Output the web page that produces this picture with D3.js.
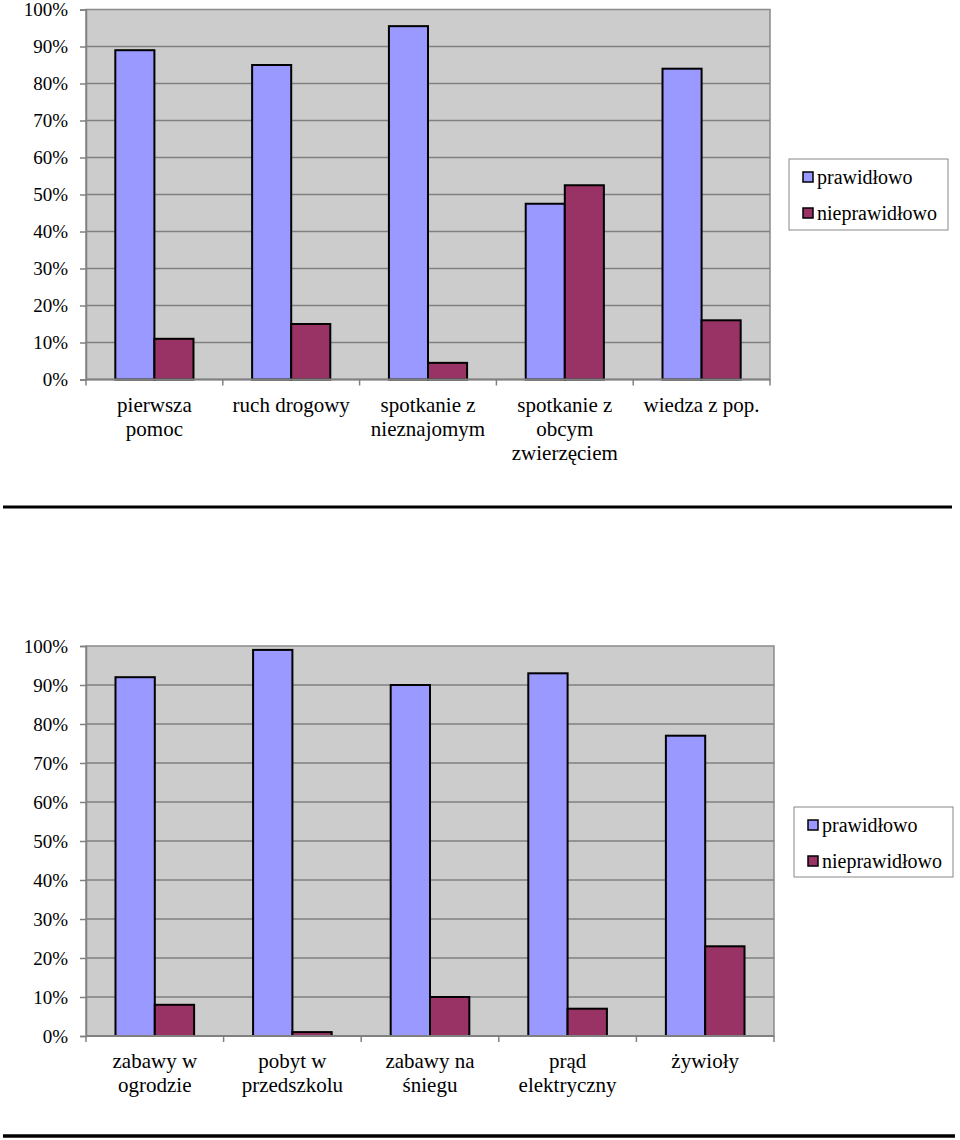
<!DOCTYPE html>
<html><head><meta charset="utf-8">
<script src="https://cdn.jsdelivr.net/npm/d3@7"></script>
<style>body{margin:0;background:#fff}svg{display:block}</style>
</head><body>
<svg id="c" width="960" height="1140"></svg>
<script>
const seriesNames = ["prawidłowo", "nieprawidłowo"];
const colors = ["#9999FF", "#993366"];
const yTicks = [0, 10, 20, 30, 40, 50, 60, 70, 80, 90, 100];

const cats1 = [["pierwsza","pomoc"],["ruch drogowy"],["spotkanie z","nieznajomym"],["spotkanie z","obcym","zwierzęciem"],["wiedza z pop."]];
const good1 = [89, 85, 95.5, 47.5, 84];
const bad1  = [11, 15, 4.5, 52.5, 16];

const cats2 = [["zabawy w","ogrodzie"],["pobyt w","przedszkolu"],["zabawy na","śniegu"],["prąd","elektryczny"],["żywioły"]];
const good2 = [92, 99, 90, 93, 77];
const bad2  = [8, 1, 10, 7, 23];

const svg = d3.select("#c");
const FONT = "Liberation Serif";

function chart(cfg) {
  const {x0, x1, yTop, yBot, cats, good, bad, legend} = cfg;
  const g = svg.append("g").attr("font-family", FONT);
  const x = d3.scaleBand().domain(d3.range(cats.length)).range([x0, x1]).paddingInner(0).paddingOuter(0);
  const y = d3.scaleLinear().domain([0, 100]).range([yBot, yTop]);
  const bw = x.bandwidth() / (2 + 1.5);

  g.append("rect").attr("x", x0).attr("y", yTop).attr("width", x1 - x0).attr("height", yBot - yTop)
    .attr("fill", "#CCCCCC").attr("stroke", "#8a8a8a").attr("stroke-width", 1.5);

  g.selectAll("line.grid").data(yTicks.filter(t => t > 0 && t < 100)).join("line")
    .attr("x1", x0).attr("x2", x1).attr("y1", d => y(d)).attr("y2", d => y(d))
    .attr("stroke", "#808080").attr("stroke-width", 1.5);

  const yAxis = g.append("g").attr("transform", `translate(${x0},0)`)
    .call(d3.axisLeft(y).tickValues(yTicks).tickFormat(d => d + "%").tickSize(6).tickPadding(12));
  yAxis.attr("font-family", FONT).attr("font-size", 19);
  yAxis.select(".domain").attr("stroke", "#808080").attr("stroke-width", 1.5);
  yAxis.selectAll(".tick line").attr("stroke", "#808080").attr("stroke-width", 1.5);
  yAxis.selectAll(".tick text").attr("font-family", FONT).attr("font-size", 19).attr("fill", "#000");

  const series = [good, bad];
  series.forEach((vals, si) => {
    g.selectAll(null).data(vals).join("rect")
      .attr("x", (d, i) => x(i) + bw * 0.75 + si * bw)
      .attr("y", d => y(d))
      .attr("width", bw)
      .attr("height", d => yBot - y(d))
      .attr("fill", colors[si]).attr("stroke", "#000").attr("stroke-width", 2);
  });

  g.append("line").attr("x1", x0).attr("x2", x1).attr("y1", yBot).attr("y2", yBot)
    .attr("stroke", "#808080").attr("stroke-width", 2);
  g.selectAll("line.xt").data(d3.range(cats.length + 1)).join("line")
    .attr("x1", i => x0 + i * x.bandwidth()).attr("x2", i => x0 + i * x.bandwidth())
    .attr("y1", yBot).attr("y2", yBot + 6).attr("stroke", "#808080").attr("stroke-width", 1.5);

  cats.forEach((lines, i) => {
    const t = g.append("text").attr("font-family", FONT).attr("font-size", 21).attr("text-anchor", "middle")
      .attr("x", x(i) + x.bandwidth() / 2).attr("y", yBot + 32);
    lines.forEach((l, k) => t.append("tspan").attr("x", x(i) + x.bandwidth() / 2).attr("dy", k === 0 ? 0 : 24).text(l));
  });

  const lg = g.append("g");
  lg.append("rect").attr("x", legend.x).attr("y", legend.y).attr("width", legend.w).attr("height", legend.h)
    .attr("fill", "#fff").attr("stroke", "#888").attr("stroke-width", 1);
  seriesNames.forEach((n, i) => {
    const yy = legend.y + 18 + i * 36;
    lg.append("rect").attr("x", legend.x + 14).attr("y", yy - 5).attr("width", 10).attr("height", 10)
      .attr("fill", colors[i]).attr("stroke", "#000").attr("stroke-width", 1.5);
    lg.append("text").attr("x", legend.x + 28).attr("y", yy + 6.5).attr("font-family", FONT).attr("font-size", 20)
      .text(n);
  });
}

chart({x0: 86, x1: 770, yTop: 9.5, yBot: 379.5, cats: cats1, good: good1, bad: bad1,
  legend: {x: 789, y: 159, w: 159, h: 71}});
chart({x0: 86, x1: 774, yTop: 646, yBot: 1036, cats: cats2, good: good2, bad: bad2,
  legend: {x: 794, y: 807, w: 159, h: 70}});

svg.append("line").attr("x1", 3).attr("x2", 952).attr("y1", 507).attr("y2", 507).attr("stroke", "#000").attr("stroke-width", 3);
svg.append("line").attr("x1", 3).attr("x2", 955).attr("y1", 1136).attr("y2", 1136).attr("stroke", "#000").attr("stroke-width", 3.5);
</script>
</body></html>
